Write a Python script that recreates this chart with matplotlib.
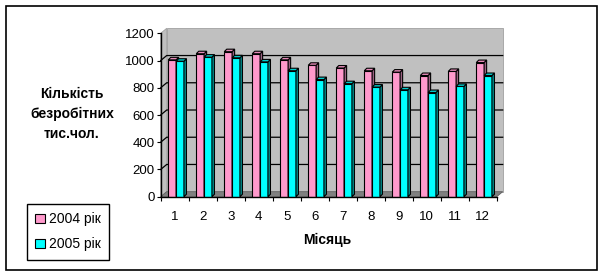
import matplotlib
matplotlib.use("Agg")
import matplotlib.pyplot as plt
from matplotlib.patches import Polygon, Rectangle, Patch

plt.rcParams['font.family'] = ['Liberation Sans', 'DejaVu Sans']

# data (thousand people)
months = [1, 2, 3, 4, 5, 6, 7, 8, 9, 10, 11, 12]
y2004 = [1005, 1050, 1065, 1050, 1005, 965, 945, 925, 915, 890, 920, 985]
y2005 = [995, 1025, 1020, 990, 925, 860, 830, 805, 785, 765, 810, 890]
series_labels = ['2004 рік', '2005 рік']
y_ticks = [0, 200, 400, 600, 800, 1000, 1200]

W, H = 604, 277
fig = plt.figure(figsize=(W / 100, H / 100), dpi=100)

# front plane of the 3d box in pixels
x0, x1, ytop, ybot = 160.7, 496.7, 33.3, 196.7
ax = fig.add_axes([x0 / W, 1 - ybot / H, (x1 - x0) / W, (ybot - ytop) / H])
ax.set_xlim(0.5, 12.5)
ax.set_ylim(0, 1200)

# depth offsets (data units)
dx = 6 / 28.0
dy = 5 / ((ybot - ytop) / 1200)

# walls and floor
ax.add_patch(Polygon([(0.5 + dx, dy), (12.5 + dx, dy), (12.5 + dx, 1200 + dy), (0.5 + dx, 1200 + dy)],
                     closed=True, facecolor='#C0C0C0', edgecolor='#A0A0A0', lw=0.6, clip_on=False, zorder=0))
ax.add_patch(Polygon([(0.5, 0), (0.5 + dx, dy), (0.5 + dx, 1200 + dy), (0.5, 1200)],
                     closed=True, facecolor='#C0C0C0', edgecolor='#A0A0A0', lw=0.6, clip_on=False, zorder=0))
ax.add_patch(Polygon([(0.5, 0), (12.5, 0), (12.5 + dx, dy), (0.5 + dx, dy)],
                     closed=True, facecolor='#808080', edgecolor='#606060', lw=0.6, clip_on=False, zorder=1))

# gridlines on the back wall
for v in y_ticks[1:-1]:
    ax.plot([0.5, 0.5 + dx, 12.5 + dx], [v, v + dy, v + dy], color='black', lw=0.9,
            clip_on=False, zorder=1)

# 3d-looking bars
bw = 0.28
bdx = 0.09
bdy = 2.5 / ((ybot - ytop) / 1200)
styles = [('#FF99CC', '#E68AB8', '#996080'), ('#00FFFF', '#00CCCC', '#008C8C')]
offsets = [-0.23, 0.05]
for vals, (cf, ct, cs), off in zip([y2004, y2005], styles, offsets):
    lefts = [m + off for m in months]
    ax.bar(lefts, vals, width=bw, align='edge', color=cf, edgecolor='black', lw=0.8, zorder=3)
    for l, v in zip(lefts, vals):
        r = l + bw
        ax.add_patch(Polygon([(r, 0), (r + bdx, bdy), (r + bdx, v + bdy), (r, v)],
                             closed=True, facecolor=cs, edgecolor='black', lw=0.8, zorder=3))
        ax.add_patch(Polygon([(l, v), (r, v), (r + bdx, v + bdy), (l + bdx, v + bdy)],
                             closed=True, facecolor=ct, edgecolor='black', lw=0.8, zorder=3))

# axes lines and ticks
for s in ['top', 'right']:
    ax.spines[s].set_visible(False)
ax.spines['left'].set_linewidth(1.0)
ax.spines['bottom'].set_linewidth(1.0)
ax.spines['left'].set_zorder(5)
ax.spines['bottom'].set_zorder(5)
ax.set_facecolor('none')
ax.set_yticks(y_ticks)
ax.set_yticklabels([str(t) for t in y_ticks])
ax.tick_params(axis='y', length=3, width=0.8, pad=1.5, labelsize=9.5)
ax.set_xticks([m - 0.5 for m in months] + [12.5])
ax.set_xticklabels([])
ax.tick_params(axis='x', which='major', length=3, width=0.8, direction='out')
ax.set_xticks(months, minor=True)
ax.set_xticklabels([str(m) for m in months], minor=True)
ax.tick_params(axis='x', which='minor', length=0, pad=10, labelsize=9.5)

fig.text(72 / W, 1 - 114 / H, 'Кількість\nбезробітних\nтис.чол.', ha='center', va='center',
         multialignment='center', fontsize=10, fontweight='bold', linespacing=1.5)
fig.text(327 / W, 1 - 240 / H, 'Місяць', ha='center', va='center', fontsize=10, fontweight='bold')

handles = [Patch(facecolor=styles[0][0], edgecolor='black', lw=0.8),
           Patch(facecolor=styles[1][0], edgecolor='black', lw=0.8)]
leg = fig.legend(handles, series_labels, loc='upper left', bbox_to_anchor=(26.7 / W, 1 - 204 / H),
                 frameon=True, fancybox=False, framealpha=1, edgecolor='black', fontsize=10,
                 handlelength=0.7, handleheight=0.7, handletextpad=0.3, labelspacing=0.8,
                 borderpad=0.6, borderaxespad=0)
leg.get_frame().set_linewidth(1.0)

# outer border
fig.patches.append(Rectangle((6 / W, 1 - 270 / H), 591 / W, 264 / H, transform=fig.transFigure,
                             fill=False, edgecolor='black', lw=1.2))

fig.savefig('out.png', dpi=100)
